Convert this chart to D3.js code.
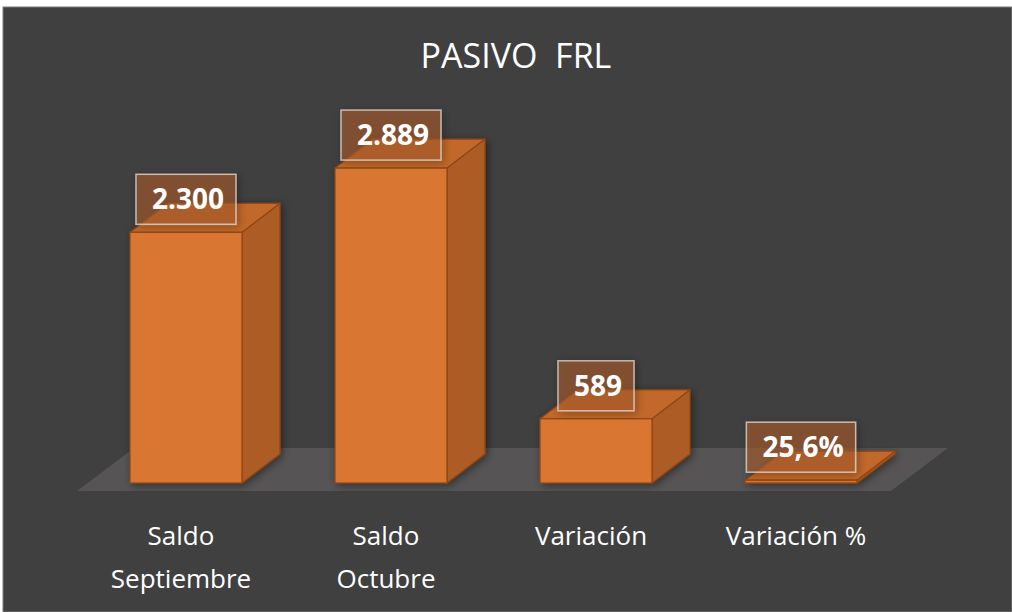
<!DOCTYPE html>
<html>
<head>
<meta charset="utf-8">
<script src="https://cdn.jsdelivr.net/npm/d3@7"></script>
<style>
  html, body { margin: 0; padding: 0; background: #ffffff; }
  svg { display: block; }
</style>
</head>
<body>
<svg id="chart" width="1012" height="612"></svg>
<script>
// ---- data ----
const title = "PASIVO  FRL";
const categories = ["Saldo Septiembre", "Saldo Octubre", "Variación", "Variación %"];
const categoryLines = [["Saldo", "Septiembre"], ["Saldo", "Octubre"], ["Variación"], ["Variación %"]];
const values = [2300, 2889, 589, 25.6];
const valueLabels = ["2.300", "2.889", "589", "25,6%"];

// ---- layout ----
const W = 1012, H = 612;
const baseY = 483;
const depthX = 38, depthY = 29;
const fontFam = "'Open Sans', 'Noto Sans', sans-serif";

const svg = d3.select("#chart");

// background
svg.append("rect").attr("x", 0).attr("y", 0).attr("width", W).attr("height", H).attr("fill", "#ffffff");
svg.append("rect").attr("x", 3).attr("y", 7).attr("width", W - 3).attr("height", H - 7)
  .attr("fill", "#404040").attr("stroke", "#7a7a7a").attr("stroke-width", 1);

const defs = svg.append("defs");
const sh = defs.append("filter").attr("id", "shadow").attr("x", "-20%").attr("y", "-20%").attr("width", "150%").attr("height", "150%");
sh.append("feGaussianBlur").attr("in", "SourceAlpha").attr("stdDeviation", 4).attr("result", "b");
sh.append("feOffset").attr("in", "b").attr("dx", 2).attr("dy", 2).attr("result", "o");
sh.append("feComponentTransfer").attr("in", "o").attr("result", "oa")
  .append("feFuncA").attr("type", "linear").attr("slope", 0.45);
const mg = sh.append("feMerge");
mg.append("feMergeNode").attr("in", "oa");
mg.append("feMergeNode").attr("in", "SourceGraphic");

// scales
const x = d3.scaleBand().domain(categories).range([83.5, 903.5]).paddingInner(0.4537).paddingOuter(0.2268);
const y = d3.scaleLinear().domain([0, 3000]).range([baseY, baseY - 327]);

// title
svg.append("text").attr("x", 516).attr("y", 68).attr("text-anchor", "middle")
  .attr("font-family", fontFam).attr("font-size", 34).attr("fill", "#ffffff")
  .attr("xml:space", "preserve").style("white-space", "pre").text(title);

// floor
const fl = { x0: 77, x1: 891, yF: 491, yB: 448, dx: 57 };
svg.append("polygon")
  .attr("points", [[fl.x0, fl.yF], [fl.x0 + fl.dx, fl.yB], [fl.x1 + fl.dx, fl.yB], [fl.x1, fl.yF]].map(p => p.join(",")).join(" "))
  .attr("fill", "#565454");

// bars
const bw = x.bandwidth();
const g = svg.append("g");
categories.forEach((c, i) => {
  const x0 = x(c), x1 = x0 + bw;
  const yt = y(values[i]);
  const bar = g.append("g").attr("filter", "url(#shadow)");
  // side
  bar.append("polygon")
    .attr("points", [[x1, baseY], [x1 + depthX, baseY - depthY], [x1 + depthX, yt - depthY], [x1, yt]].map(p => p.join(",")).join(" "))
    .attr("fill", "#ad5c27").attr("stroke", "#8f4612").attr("stroke-width", 1.2).attr("stroke-linejoin", "round");
  // top
  bar.append("polygon")
    .attr("points", [[x0, yt], [x0 + depthX, yt - depthY], [x1 + depthX, yt - depthY], [x1, yt]].map(p => p.join(",")).join(" "))
    .attr("fill", "#c2672a").attr("stroke", "#8f4612").attr("stroke-width", 1.2).attr("stroke-linejoin", "round");
  // front
  bar.append("rect").attr("x", x0).attr("y", yt).attr("width", bw).attr("height", Math.max(0, baseY - yt))
    .attr("fill", "#d97732").attr("stroke", "#8f4612").attr("stroke-width", 1.2);
});

// value labels
const lab = svg.append("g");
categories.forEach((c, i) => {
  const cx = x(c) + bw / 2;
  const yt = y(values[i]);
  const boxBottom = yt - 8;
  const boxH = 50;
  const t = lab.append("text")
    .attr("font-family", fontFam).attr("font-weight", "bold").attr("font-size", 28)
    .attr("fill", "#ffffff").attr("text-anchor", "middle")
    .text(valueLabels[i]);
  const tw = t.node().getComputedTextLength();
  const boxW = tw + 28;
  lab.insert("rect", "text")
    .attr("x", cx - boxW / 2).attr("y", boxBottom - boxH).attr("width", boxW).attr("height", boxH)
    .attr("fill", "rgba(175,95,45,0.55)").attr("stroke", "rgba(215,205,195,0.85)").attr("stroke-width", 1.5)
    .attr("filter", "url(#shadow)");
  t.attr("x", cx + 2).attr("y", boxBottom - boxH / 2 + 10);
  t.raise();
});

// category labels
const cat = svg.append("g");
categories.forEach((c, i) => {
  const cx = x(c) + bw / 2 - 5;
  const t = cat.append("text").attr("text-anchor", "middle")
    .attr("font-family", fontFam).attr("font-size", 26).attr("fill", "#ffffff");
  categoryLines[i].forEach((ln, j) => {
    t.append("tspan").attr("x", cx).attr("y", 545 + j * 43).text(ln);
  });
});
</script>
</body>
</html>
